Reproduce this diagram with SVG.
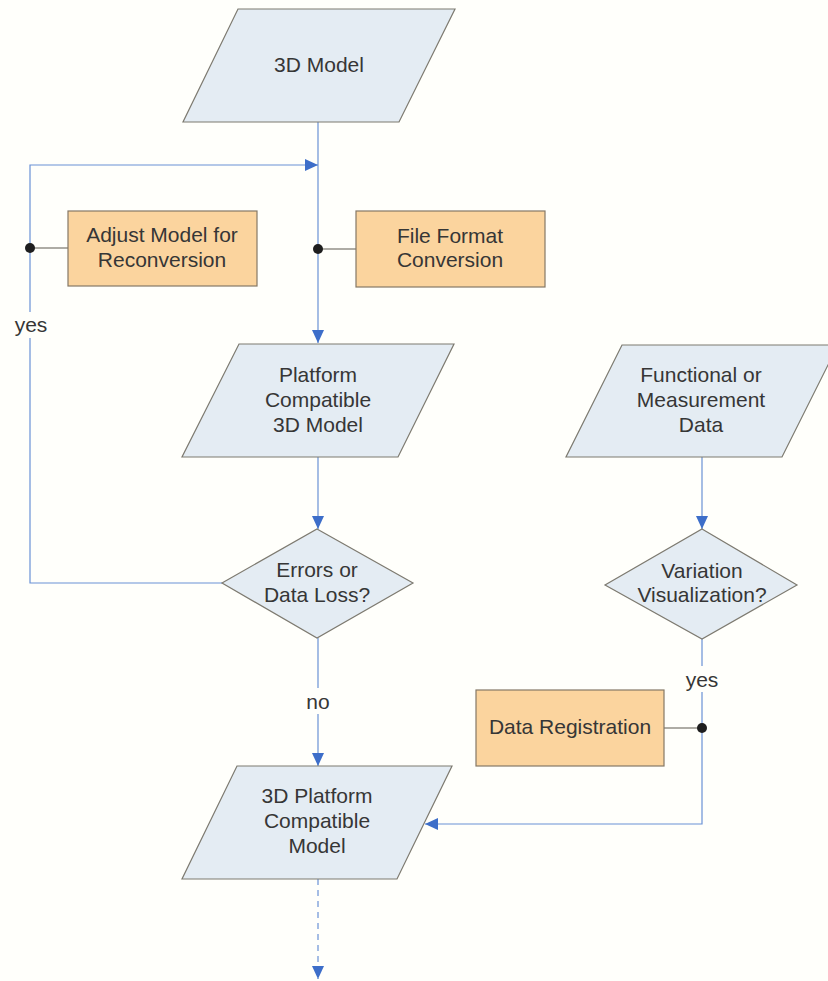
<svg xmlns="http://www.w3.org/2000/svg" width="828" height="981" viewBox="0 0 828 981">
  <style>
    .io { fill: #e4ecf3; stroke: #7d7a70; stroke-width: 1.2; }
    .dec { fill: #e4ecf3; stroke: #7d7a70; stroke-width: 1.2; }
    .proc { fill: #fbd49e; stroke: #857866; stroke-width: 1.2; }
    .lbl { font-family: "Liberation Sans", Arial, sans-serif; font-size: 21px; fill: #363636; text-anchor: middle; }
    .flow { fill: none; stroke: #6a92d6; stroke-width: 1.2; }
    .dashed { stroke-dasharray: 6 5; }
    .tie { fill: none; stroke: #5f5a50; stroke-width: 1.2; }
    .dot { fill: #1e1e1e; }
    .gap { fill: #fffffb; }
  </style>
  <defs>
    <marker id="arrow" markerUnits="userSpaceOnUse" markerWidth="14" markerHeight="12" refX="13" refY="6" orient="auto">
      <path d="M0,0 L13,6 L0,12 z" fill="#3d6ec9"/>
    </marker>
  </defs>

  <rect width="828" height="981" fill="#fffffb"/>

  <!-- connectors -->
  <g id="connectors">
    <!-- main spine -->
    <line class="flow" x1="318" y1="122" x2="318" y2="343" marker-end="url(#arrow)"/>
    <line class="flow" x1="318" y1="457" x2="318" y2="529" marker-end="url(#arrow)"/>
    <line class="flow" x1="318" y1="638" x2="318" y2="766" marker-end="url(#arrow)"/>
    <line class="flow dashed" x1="318" y1="879" x2="318" y2="979" marker-end="url(#arrow)"/>
    <!-- rework loop -->
    <polyline class="flow" points="222,583 30,583 30,165 318,165" marker-end="url(#arrow)"/>
    <!-- measurement branch -->
    <line class="flow" x1="702" y1="457" x2="702" y2="529" marker-end="url(#arrow)"/>
    <polyline class="flow" points="702,639 702,824 425,824" marker-end="url(#arrow)"/>
    <!-- attached process ties -->
    <line class="tie" x1="30" y1="248" x2="68" y2="248"/>
    <circle class="dot" cx="30" cy="248" r="5"/>
    <line class="tie" x1="318" y1="249" x2="356" y2="249"/>
    <circle class="dot" cx="318" cy="249" r="5"/>
    <line class="tie" x1="664" y1="728" x2="702" y2="728"/>
    <circle class="dot" cx="702" cy="728" r="5"/>
    <!-- branch labels -->
    <rect class="gap" x="12" y="312" width="38" height="26"/>
    <text class="lbl" x="31" y="332">yes</text>
    <rect class="gap" x="302" y="688" width="32" height="26"/>
    <text class="lbl" x="318" y="709">no</text>
    <rect class="gap" x="683" y="666" width="38" height="26"/>
    <text class="lbl" x="702" y="687">yes</text>
  </g>

  <g id="model-3d">
    <polygon class="io" points="238,9 455,9 399,122 183,122"/>
    <text class="lbl" x="319" y="72">3D Model</text>
  </g>

  <g id="adjust-model">
    <rect class="proc" x="68" y="211" width="189" height="75"/>
    <text class="lbl" x="162" y="242">Adjust Model for</text>
    <text class="lbl" x="162" y="267">Reconversion</text>
  </g>

  <g id="file-format-conversion">
    <rect class="proc" x="356" y="211" width="189" height="76"/>
    <text class="lbl" x="450" y="243">File Format</text>
    <text class="lbl" x="450" y="267">Conversion</text>
  </g>

  <g id="platform-compatible-3d-model">
    <polygon class="io" points="239,344 454,344 398,457 182,457"/>
    <text class="lbl" x="318" y="382">Platform</text>
    <text class="lbl" x="318" y="407">Compatible</text>
    <text class="lbl" x="318" y="432">3D Model</text>
  </g>

  <g id="measurement-data">
    <polygon class="io" points="622,345 838,345 782,457 566,457"/>
    <text class="lbl" x="701" y="382">Functional or</text>
    <text class="lbl" x="701" y="407">Measurement</text>
    <text class="lbl" x="701" y="432">Data</text>
  </g>

  <g id="errors-decision">
    <polygon class="dec" points="317,529 413,583 317,638 222,583"/>
    <text class="lbl" x="317" y="577">Errors or</text>
    <text class="lbl" x="317" y="602">Data Loss?</text>
  </g>

  <g id="variation-decision">
    <polygon class="dec" points="702,529 797,585 702,639 605,585"/>
    <text class="lbl" x="702" y="578">Variation</text>
    <text class="lbl" x="702" y="602">Visualization?</text>
  </g>

  <g id="data-registration">
    <rect class="proc" x="476" y="690" width="188" height="76"/>
    <text class="lbl" x="570" y="734">Data Registration</text>
  </g>

  <g id="platform-model-output">
    <polygon class="io" points="237,766 452,766 397,879 182,879"/>
    <text class="lbl" x="317" y="803">3D Platform</text>
    <text class="lbl" x="317" y="828">Compatible</text>
    <text class="lbl" x="317" y="853">Model</text>
  </g>
</svg>
